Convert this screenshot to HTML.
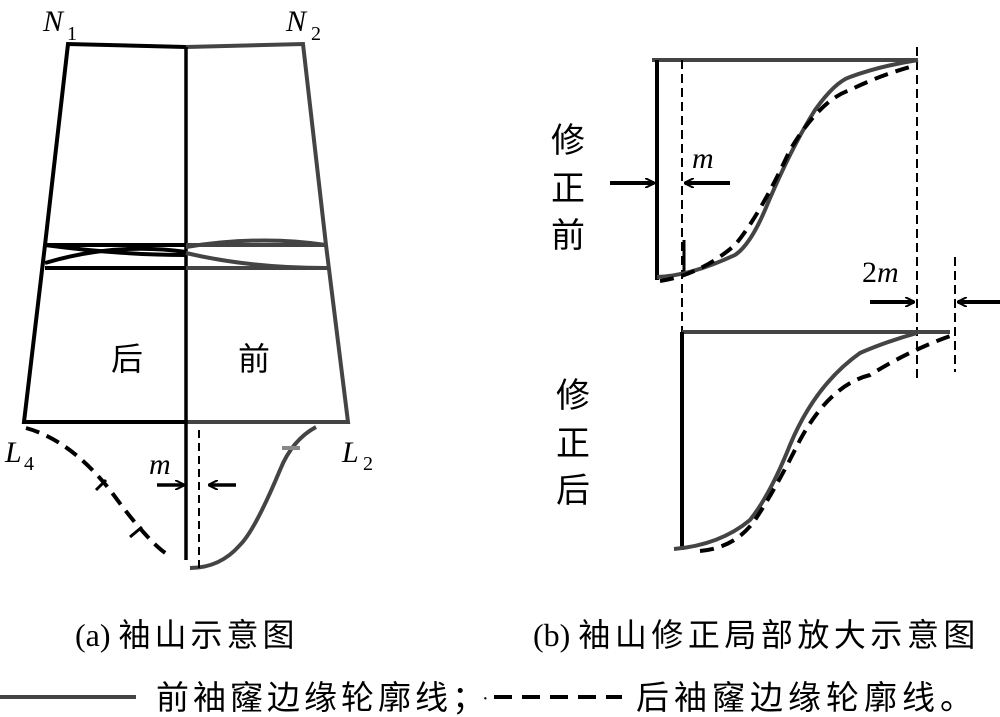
<!DOCTYPE html>
<html><head><meta charset="utf-8"><style>
body{margin:0;background:#fff}
svg{display:block}
text{font-family:"Liberation Serif","Noto Serif CJK SC",serif;fill:#000}
.cj{font-family:"Liberation Serif","Noto Sans CJK SC",sans-serif}
</style></head><body>
<svg width="1000" height="717" viewBox="0 0 1000 717" xmlns="http://www.w3.org/2000/svg">
<defs><marker id="ah" markerWidth="10" markerHeight="10" refX="9" refY="5" orient="auto" markerUnits="userSpaceOnUse"><path d="M0,0 L10,5 L0,10" fill="none" stroke="#000" stroke-width="2"/></marker></defs>
<g fill="none" stroke-width="4">
<path d="M186,47 L68,44 L45,245 L24,422 L186,422" stroke="#000"/>
<path d="M186,47 L303,44 L326,245 L348,422 L186,422" stroke="#444"/>
<line x1="186" y1="47" x2="186" y2="560" stroke="#000" stroke-width="3.5"/>
<line x1="45" y1="245" x2="186" y2="245" stroke="#000"/>
<line x1="45" y1="268" x2="186" y2="268" stroke="#000"/>
<line x1="186" y1="245" x2="326" y2="245" stroke="#444"/>
<line x1="186" y1="268" x2="329" y2="268" stroke="#444"/>
<path d="M45,263 Q115,242 186,252" stroke="#000"/>
<path d="M45,245 Q120,255 186,255" stroke="#000"/>
<path d="M186,247 Q260,235 326,245" stroke="#444"/>
<path d="M186,253 Q250,268 326,268" stroke="#444"/>
<path d="M316,427 Q292,440 280,470 Q255,530 240,545 Q220,568 190,568" stroke="#444"/>
<line x1="282" y1="448" x2="300" y2="448" stroke="#888"/>
<path d="M26,428 Q70,440 110,490 Q150,545 170,556" stroke="#000" stroke-dasharray="14,8"/>
<line x1="96" y1="490" x2="106" y2="480" stroke="#000" stroke-width="3"/>
<line x1="130" y1="537" x2="142" y2="527" stroke="#000" stroke-width="3"/>
<line x1="199" y1="430" x2="199" y2="568" stroke="#000" stroke-width="2" stroke-dasharray="8,5"/>
<line x1="157" y1="485" x2="184" y2="485" stroke="#000" stroke-width="3.5" marker-end="url(#ah)"/>
<line x1="236" y1="485" x2="209" y2="485" stroke="#000" stroke-width="3.5" marker-end="url(#ah)"/>
</g>
<text x="43" y="31" font-size="30" font-style="italic">N</text><text x="67" y="40" font-size="20">1</text>
<text x="286" y="31" font-size="30" font-style="italic">N</text><text x="311" y="40" font-size="20">2</text>
<text x="5" y="462" font-size="30" font-style="italic">L</text><text x="24" y="470" font-size="20">4</text>
<text x="342" y="462" font-size="30" font-style="italic">L</text><text x="363" y="470" font-size="20">2</text>
<text x="149" y="474" font-size="30" font-style="italic">m</text>
<text class="cj" x="111" y="370" font-size="32">后</text>
<text class="cj" x="238" y="370" font-size="32">前</text>
<g fill="none" stroke-width="4">
<line x1="652" y1="60" x2="918" y2="60" stroke="#444"/>
<line x1="657" y1="60" x2="657" y2="280" stroke="#000"/>
<line x1="682" y1="60" x2="682" y2="332" stroke="#000" stroke-width="2" stroke-dasharray="9,5"/>
<line x1="917" y1="47" x2="917" y2="382" stroke="#000" stroke-width="2" stroke-dasharray="9,5"/>
<line x1="955" y1="257" x2="955" y2="372" stroke="#000" stroke-width="2" stroke-dasharray="9,5"/>
<line x1="684" y1="240" x2="684" y2="272" stroke="#000" stroke-width="3"/>
<path d="M657,277 Q690,276 735,255 Q750,245 765,210 Q790,150 815,110 Q835,82 850,77 Q880,66 918,60" stroke="#444"/>
<path d="M660,281 Q700,275 735,245 Q760,215 790,150 Q820,100 850,90 Q880,75 917,65" stroke="#000" stroke-dasharray="14,8"/>
<line x1="610" y1="183" x2="654" y2="183" stroke="#000" marker-end="url(#ah)"/>
<line x1="730" y1="183" x2="685" y2="183" stroke="#000" marker-end="url(#ah)"/>
<line x1="870" y1="302" x2="914" y2="302" stroke="#000" marker-end="url(#ah)"/>
<line x1="1000" y1="302" x2="958" y2="302" stroke="#000" marker-end="url(#ah)"/>
<line x1="682" y1="332" x2="950" y2="332" stroke="#444"/>
<line x1="682" y1="332" x2="682" y2="550" stroke="#000"/>
<path d="M674,549 Q720,545 750,520 Q770,495 790,445 Q815,385 860,353 Q885,342 917,333" stroke="#444"/>
<path d="M700,551 Q735,548 755,520 Q775,490 800,440 Q830,385 870,375 Q910,350 953,335" stroke="#000" stroke-dasharray="14,8"/>
</g>
<text x="692" y="168" font-size="30" font-style="italic">m</text>
<text x="862" y="282" font-size="30">2<tspan font-style="italic">m</tspan></text>
<g font-size="34"><text class="cj" x="551" y="152">修</text><text class="cj" x="551" y="200">正</text><text class="cj" x="551" y="247">前</text>
<text class="cj" x="556" y="407">修</text><text class="cj" x="556" y="455">正</text><text class="cj" x="556" y="502">后</text></g>
<text x="75" y="646" font-size="32">(a) <tspan class="cj" letter-spacing="4">袖山示意图</tspan></text>
<text x="533" y="646" font-size="32">(b) <tspan class="cj" letter-spacing="4.5">袖山修正局部放大示意图</tspan></text>
<line x1="0" y1="697" x2="136" y2="697" stroke="#444" stroke-width="4"/>
<text class="cj" x="156" y="709" font-size="33" letter-spacing="4">前袖窿边缘轮廓线；</text>
<text x="482" y="705" font-size="20">·</text>
<line x1="494" y1="697" x2="622" y2="697" stroke="#000" stroke-width="4" stroke-dasharray="18,10"/>
<text class="cj" x="636" y="709" font-size="33" letter-spacing="5">后袖窿边缘轮廓线。</text>
</svg>
</body></html>
